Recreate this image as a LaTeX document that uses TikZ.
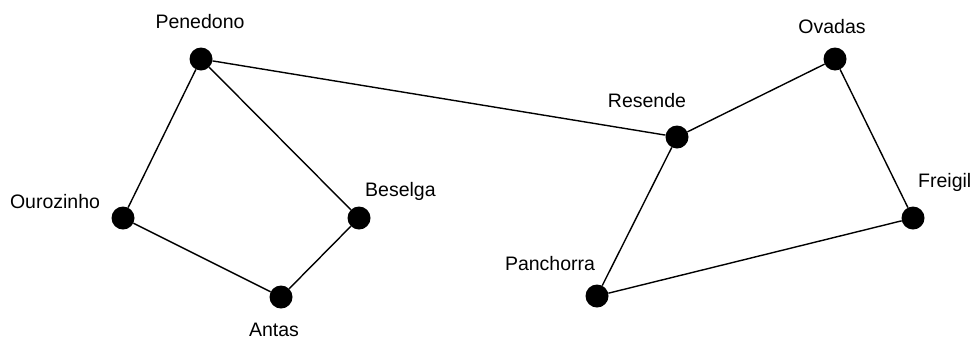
\documentclass[tikz,border=0pt]{standalone}
\usepackage{fontspec}
\setmainfont{Liberation Sans}
\begin{document}
\begin{tikzpicture}[x=1pt,y=-1pt,
  vtx/.style={circle,fill=black,inner sep=0pt,minimum size=23pt},
  lbl/.style={inner sep=0pt,font=\fontsize{19.5}{21}\selectfont},
  edge/.style={line width=1.4pt,black}]
\useasboundingbox (0,0) rectangle (973,341);
\node[vtx] (pen) at (201,59) {};
\node[vtx] (our) at (123,218) {};
\node[vtx] (bes) at (359,218) {};
\node[vtx] (ant) at (281,297) {};
\node[vtx] (res) at (677,137) {};
\node[vtx] (ova) at (835,59) {};
\node[vtx] (fre) at (913,218) {};
\node[vtx] (pan) at (597,296) {};
\node[lbl] (lpen) at (200,22) {Penedono};
\node[lbl] (lour) at (55,202) {Ourozinho};
\node[lbl,anchor=west] (lbes) at (365,191) {Beselga};
\node[lbl] (lant) at (274,330) {Antas};
\node[lbl] (lres) at (647,101) {Resende};
\node[lbl] (lova) at (832,27) {Ovadas};
\node[lbl,anchor=west] (lfre) at (918,182) {Freigil};
\node[lbl] (lpan) at (550,264) {Panchorra};
\draw[edge] (pen) -- (our);
\draw[edge] (pen) -- (bes);
\draw[edge] (our) -- (ant);
\draw[edge] (bes) -- (ant);
\draw[edge] (pen) -- (res);
\draw[edge] (res) -- (ova);
\draw[edge] (ova) -- (fre);
\draw[edge] (res) -- (pan);
\draw[edge] (pan) -- (fre);
\end{tikzpicture}
\end{document}
